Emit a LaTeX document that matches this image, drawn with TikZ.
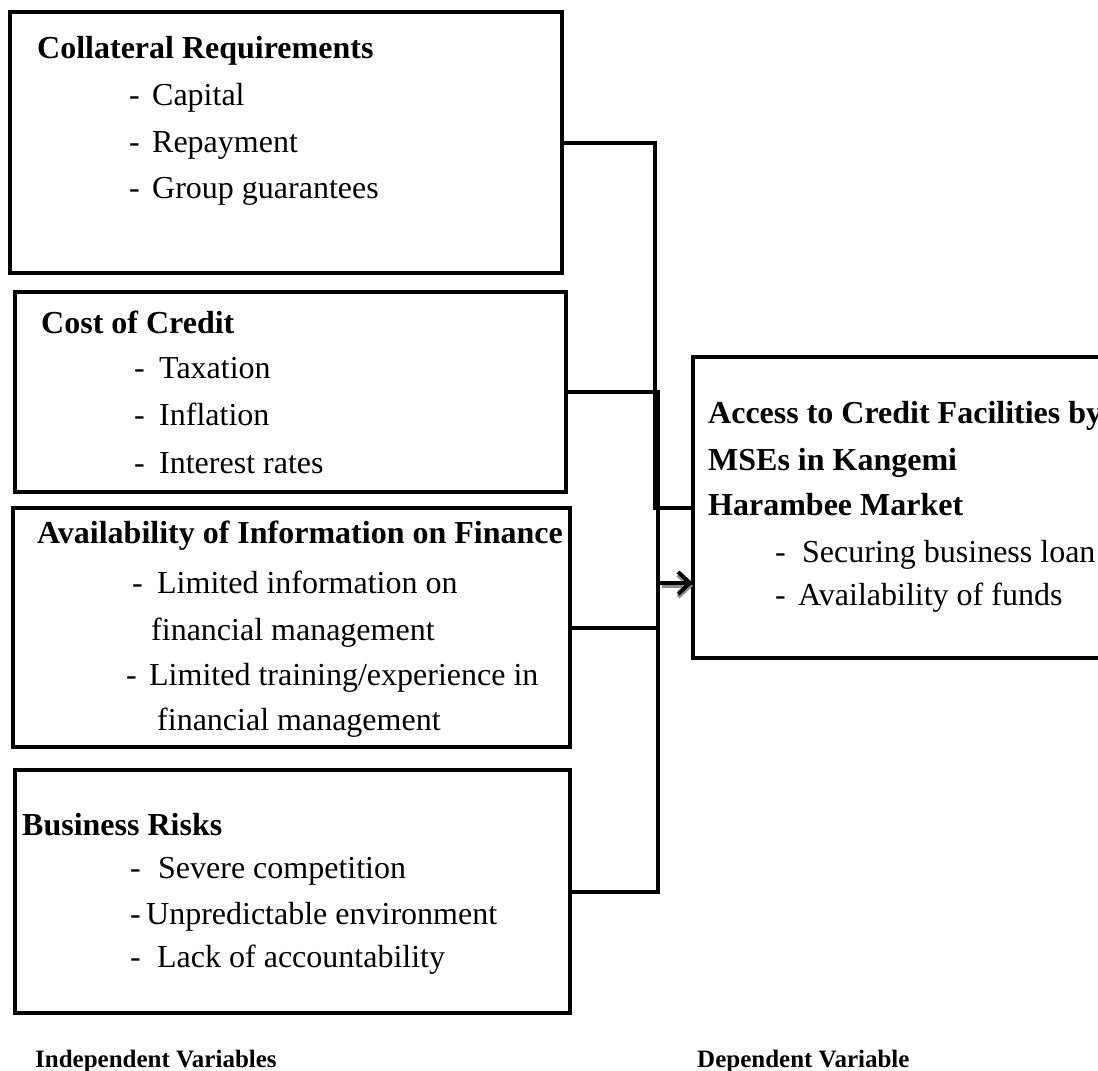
\documentclass[tikz,border=0pt]{standalone}
\usepackage{fontspec}
\setmainfont{Liberation Serif}
\usetikzlibrary{arrows.meta}
\begin{document}
\begin{tikzpicture}[x=1pt,y=-1pt,
  box/.style={draw=black,line width=4pt,rectangle,inner sep=0pt,outer sep=0pt,anchor=north west},
  conn/.style={draw=black,line width=4pt},
  txt/.style={inner sep=0pt,anchor=base west,font=\fontsize{32}{38}\selectfont},
  ttl/.style={txt,font=\fontsize{32}{38}\selectfont\bfseries},
  lbl/.style={inner sep=0pt,anchor=base west,font=\fontsize{25}{30}\selectfont\bfseries}]
\useasboundingbox (0,0) rectangle (1098,1071);
\clip (0,0) rectangle (1098,1071);
\fill[white] (0,0) rectangle (1098,1071);
\newcommand{\dashitem}[2]{\makebox[#1][l]{-}#2}

% boxes
\node[box,minimum width=552pt,minimum height=261pt] (A) at (10,12) {};
\node[box,minimum width=551pt,minimum height=200pt] (B) at (15,292) {};
\node[box,minimum width=557pt,minimum height=239pt] (C) at (13,508) {};
\node[box,minimum width=555pt,minimum height=243pt] (D) at (15,770) {};
\node[box,minimum width=430pt,minimum height=301pt] (R) at (693,357) {};

% texts of A
\node[ttl] (a0) at (37,58) {Collateral Requirements};
\node[txt] (a1) at (129,105) {\dashitem{23pt}{Capital}};
\node[txt] (a2) at (129,152) {\dashitem{23pt}{Repayment}};
\node[txt] (a3) at (129,198) {\dashitem{23pt}{Group guarantees}};

% texts of B
\node[ttl] (b0) at (41,333) {Cost of Credit};
\node[txt] (b1) at (134,378) {\dashitem{25pt}{Taxation}};
\node[txt] (b2) at (134,425) {\dashitem{25pt}{Inflation}};
\node[txt] (b3) at (134,473) {\dashitem{25pt}{Interest rates}};

% texts of C
\node[ttl] (c0) at (37,543) {Availability of Information on Finance};
\node[txt] (c1) at (132,593) {\dashitem{25pt}{Limited information on}};
\node[txt] (c2) at (151,640) {financial management};
\node[txt] (c3) at (126,685) {\dashitem{23pt}{Limited training/experience in}};
\node[txt] (c4) at (157,730) {financial management};

% texts of D
\node[ttl] (d0) at (22,835) {Business Risks};
\node[txt] (d1) at (130,878) {\dashitem{28pt}{Severe competition}};
\node[txt] (d2) at (130,924) {\dashitem{16pt}{Unpredictable environment}};
\node[txt] (d3) at (130,967) {\dashitem{27pt}{Lack of accountability}};

% texts of R
\node[ttl] (r0) at (708,423) {Access to Credit Facilities by};
\node[ttl] (r1) at (708,470) {MSEs in Kangemi};
\node[ttl] (r2) at (708,515) {Harambee Market};
\node[txt] (r3) at (775,562) {\dashitem{27pt}{Securing business loan}};
\node[txt] (r4) at (775,605) {\dashitem{23pt}{Availability of funds}};

% bottom labels
\node[lbl] (iv) at (35,1067) {Independent Variables};
\node[lbl] (dv) at (697,1067) {Dependent Variable};

% connectors
\coordinate (busX) at (658,0);
\coordinate (arrS) at (660,583);
\draw[conn] (A.east) -- ++(93,0) |- (R.west);
\draw[conn] (B.east) -- (B.east -| busX) -- (D.east -| busX) -- (D.east);
\draw[conn] (C.east) -- (C.east -| busX);
\draw[black!45,line width=4pt,-{Straight Barb[length=12pt,width=22pt]}] ([shift={(2,3)}]arrS) -- ([shift={(0,3)}]arrS -| R.west);
\draw[black,line width=4pt,-{Straight Barb[length=12pt,width=22pt]}] (arrS) -- (arrS -| R.west);
\end{tikzpicture}
\end{document}
